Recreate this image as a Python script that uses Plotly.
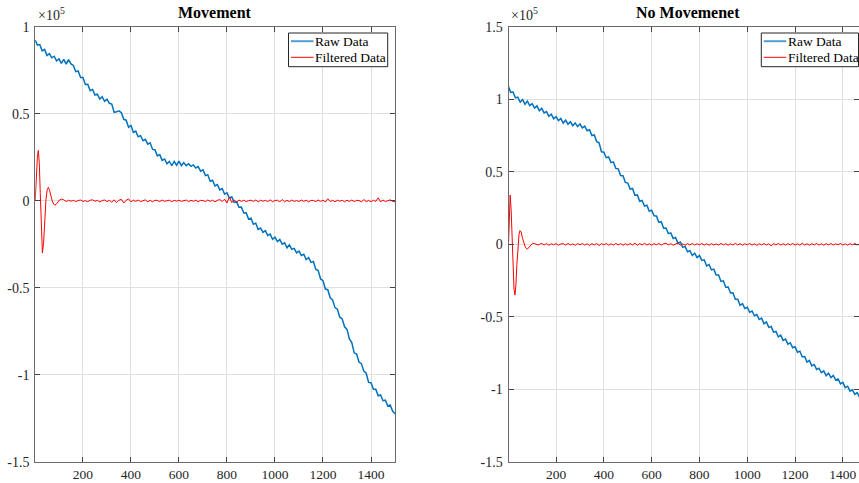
import plotly.graph_objects as go

# ---------------- data (values in units of 1e5) ----------------
sample_step = [1] + list(range(10, 1501, 10))

raw_movement = [
    0.925, 0.896, 0.899, 0.863, 0.871, 0.836, 0.847, 0.823, 0.832, 0.806,
    0.817, 0.791, 0.814, 0.787, 0.813, 0.788, 0.779, 0.743, 0.747, 0.709,
    0.709, 0.670, 0.671, 0.634, 0.641, 0.609, 0.614, 0.586, 0.599, 0.573,
    0.585, 0.561, 0.557, 0.509, 0.512, 0.518, 0.507, 0.469, 0.464, 0.423,
    0.434, 0.394, 0.401, 0.369, 0.375, 0.346, 0.354, 0.326, 0.334, 0.296,
    0.294, 0.259, 0.266, 0.233, 0.241, 0.213, 0.227, 0.202, 0.227, 0.205,
    0.229, 0.203, 0.220, 0.203, 0.214, 0.199, 0.207, 0.189, 0.197, 0.171,
    0.179, 0.146, 0.150, 0.113, 0.119, 0.086, 0.094, 0.063, 0.071, 0.039,
    0.047, 0.016, 0.023, -0.009, -0.006, -0.037, -0.036, -0.070, -0.069, -0.104,
    -0.099, -0.134, -0.128, -0.164, -0.156, -0.181, -0.171, -0.199, -0.191, -0.221,
    -0.209, -0.234, -0.222, -0.249, -0.241, -0.270, -0.253, -0.279, -0.273, -0.299,
    -0.289, -0.314, -0.307, -0.337, -0.326, -0.354, -0.349, -0.395, -0.401, -0.449,
    -0.459, -0.507, -0.511, -0.557, -0.569, -0.614, -0.623, -0.669, -0.679, -0.724,
    -0.739, -0.794, -0.815, -0.874, -0.881, -0.927, -0.936, -0.979, -0.991, -1.044,
    -1.046, -1.084, -1.084, -1.121, -1.116, -1.149, -1.146, -1.180, -1.174, -1.209,
    -1.225,
]

raw_no_movement = [
    1.090, 1.049, 1.051, 1.011, 1.016, 0.981, 0.999, 0.967, 0.989, 0.957,
    0.971, 0.941, 0.956, 0.922, 0.939, 0.907, 0.916, 0.884, 0.898, 0.867,
    0.881, 0.854, 0.869, 0.836, 0.857, 0.829, 0.846, 0.819, 0.838, 0.813,
    0.831, 0.804, 0.816, 0.784, 0.791, 0.751, 0.755, 0.709, 0.701, 0.639,
    0.636, 0.598, 0.603, 0.564, 0.569, 0.524, 0.521, 0.475, 0.473, 0.427,
    0.423, 0.381, 0.386, 0.339, 0.341, 0.297, 0.303, 0.264, 0.270, 0.229,
    0.236, 0.197, 0.196, 0.152, 0.156, 0.111, 0.113, 0.074, 0.079, 0.041,
    0.048, 0.007, 0.016, -0.021, -0.014, -0.051, -0.044, -0.077, -0.061, -0.091,
    -0.077, -0.111, -0.107, -0.149, -0.139, -0.176, -0.171, -0.211, -0.211, -0.256,
    -0.252, -0.296, -0.294, -0.336, -0.334, -0.379, -0.379, -0.421, -0.409, -0.443,
    -0.434, -0.469, -0.460, -0.493, -0.484, -0.519, -0.509, -0.548, -0.535, -0.573,
    -0.567, -0.606, -0.601, -0.639, -0.627, -0.663, -0.654, -0.689, -0.679, -0.714,
    -0.707, -0.744, -0.737, -0.776, -0.774, -0.813, -0.801, -0.839, -0.829, -0.863,
    -0.855, -0.886, -0.874, -0.906, -0.889, -0.919, -0.904, -0.936, -0.929, -0.963,
    -0.953, -0.989, -0.979, -1.013, -1.004, -1.036, -1.024, -1.056, -1.044, -1.073,
    -1.070,
]

filt_head_x_movement = [1, 5, 10, 14, 18, 22, 26, 31, 36, 41, 46, 51, 56, 61, 66,
                        72, 78, 83, 88, 95, 102, 110, 118, 126, 133]
filt_head_movement = [0.0, 0.12, 0.25, 0.29, 0.22, 0.05, -0.16, -0.30, -0.24, -0.10,
                      0.01, 0.065, 0.078, 0.06, 0.03, 0.0, -0.018, -0.025, -0.02,
                      -0.005, 0.005, 0.01, 0.008, 0.0, -0.003]

filt_head_x_no_movement = [1, 4, 8, 12, 16, 20, 24, 28, 32, 36, 40, 45, 49, 54, 60,
                           66, 72, 80, 86, 95, 102, 110, 118, 126, 133]
filt_head_no_movement = [0.0, 0.20, 0.34, 0.24, 0.05, -0.17, -0.31, -0.35, -0.28,
                         -0.14, -0.01, 0.07, 0.095, 0.085, 0.04, 0.0, -0.022, -0.033,
                         -0.02, 0.0, 0.008, 0.005, 0.0, -0.004, 0.002]

filt_tail_x = list(range(140, 1501, 10))
filt_tail_movement = [
    0.004, -0.002, 0.003, -0.004, 0.002, 0.005, -0.003, 0.001, -0.005, 0.004, 0.006, -0.002, 0.003, -0.006, 0.002, 0.005, -0.004,
    0.003, -0.008, 0.006, -0.010, 0.004, 0.009, -0.012, 0.003, 0.012, -0.006, 0.004, -0.003, 0.005, -0.004, 0.002, 0.006, -0.005, 0.003, -0.006, 0.004,
    0.002, -0.004, 0.005, -0.003, 0.001, 0.004, -0.005, 0.003, -0.002, 0.004, -0.003, 0.002, 0.005, -0.004, 0.003, -0.002, 0.004, -0.005, 0.003, 0.002,
    -0.004, 0.005, -0.003, 0.004, -0.006, 0.003, 0.008, -0.004, 0.010, -0.012, 0.022, -0.010, 0.006, -0.008, 0.005, -0.003, 0.004, -0.005, 0.002, 0.004,
    -0.003, 0.005, -0.006, 0.004, -0.002, 0.003, -0.004, 0.006, -0.005, 0.002, 0.004, -0.006, 0.008, -0.005, 0.003, -0.004, 0.005, -0.003, 0.002, -0.004,
    0.005, -0.003, 0.004, -0.006, 0.003, 0.002, -0.004, 0.005, -0.003, 0.004, -0.006, 0.012, -0.004, 0.003, -0.005, 0.004, -0.002, 0.003, -0.005, 0.004,
    -0.003, 0.005, -0.004, 0.003, 0.002, -0.006, 0.008, -0.004, 0.003, -0.005, 0.004, -0.003, 0.018, -0.006, 0.005, -0.004, 0.003, 0.006, -0.003, -0.005,
]
filt_tail_no_movement = [
    0.006, -0.004, 0.005, -0.006, 0.004, -0.003, 0.005, -0.006, 0.003, 0.004, -0.005, 0.006, -0.004, 0.003, -0.006, 0.005, -0.003,
    0.006, -0.005, 0.004, -0.007, 0.005, -0.004, 0.006, -0.008, 0.005, -0.004, 0.007, -0.006, 0.004, -0.005, 0.006, -0.004, 0.005, -0.006, 0.004, -0.005,
    0.006, -0.004, 0.008, -0.006, 0.005, -0.004, 0.007, -0.005, 0.004, -0.006, 0.005, -0.003, 0.006, -0.005, 0.004, 0.008, -0.004, 0.005, -0.006, 0.004,
    0.010, -0.005, 0.004, -0.006, 0.005, -0.004, 0.006, -0.005, 0.004, -0.003, 0.006, -0.005, 0.004, -0.006, 0.005, -0.004, 0.003, -0.005, 0.006, -0.004,
    0.005, -0.006, 0.004, -0.005, 0.007, -0.004, 0.005, -0.006, 0.004, -0.003, 0.006, -0.005, 0.004, -0.007, 0.005, -0.004, 0.006, -0.005, 0.004, -0.010,
    0.005, -0.004, 0.006, -0.005, 0.004, -0.006, 0.005, -0.004, 0.006, -0.005, 0.004, -0.006, 0.008, -0.005, 0.004, -0.006, 0.005, -0.004, 0.006, -0.005,
    0.004, -0.006, 0.005, -0.004, 0.006, -0.005, 0.004, -0.003, 0.006, -0.005, 0.004, -0.006, 0.005, -0.004, 0.006, -0.005, 0.004, -0.006, 0.005, -0.003,
]

x_tick_vals = [200, 400, 600, 800, 1000, 1200, 1400]
x_tick_text = ["200", "400", "600", "800", "1000", "1200", "1400"]
y_ticks_left = [-1.5, -1, -0.5, 0, 0.5, 1]
y_text_left = ["-1.5", "-1", "-0.5", "0", "0.5", "1"]
y_ticks_right = [-1.5, -1, -0.5, 0, 0.5, 1, 1.5]
y_text_right = ["-1.5", "-1", "-0.5", "0", "0.5", "1", "1.5"]
titles = ["Movement", "No Movemenet"]
series_names = ["Raw Data", "Filtered Data"]

# ---------------- figure ----------------
W, H = 859, 483
SERIF = "Liberation Serif"
BLUE = "#0072BD"
RED = "#FF0000"
TXT = "#262626"

fig = go.Figure()
fig.add_trace(go.Scatter(x=sample_step, y=raw_movement, mode="lines", name=series_names[0],
                         line=dict(color=BLUE, width=1.5), xaxis="x", yaxis="y"))
fig.add_trace(go.Scatter(x=filt_head_x_movement + filt_tail_x, y=filt_head_movement + filt_tail_movement,
                         mode="lines", name=series_names[1], line=dict(color=RED, width=1),
                         xaxis="x", yaxis="y"))
fig.add_trace(go.Scatter(x=sample_step, y=raw_no_movement, mode="lines", name=series_names[0],
                         line=dict(color=BLUE, width=1.5), xaxis="x2", yaxis="y2"))
fig.add_trace(go.Scatter(x=filt_head_x_no_movement + filt_tail_x, y=filt_head_no_movement + filt_tail_no_movement,
                         mode="lines", name=series_names[1], line=dict(color=RED, width=1),
                         xaxis="x2", yaxis="y2"))

ydom = [21.3 / H, (H - 27) / H]
left_dom = [35.2 / W, 395 / W]
right_dom = [508.5 / W, 1.0]

common_axis = dict(showline=True, mirror="ticks", linecolor="#6a6a6a", linewidth=1,
                   ticks="inside", ticklen=5, tickcolor="#444444", tickwidth=1,
                   showgrid=True, gridcolor="#dfdfdf", gridwidth=1, zeroline=False,
                   automargin=False)
xfont = dict(family=SERIF, size=13.5, color=TXT)
yfont = dict(family=SERIF, size=14, color=TXT)

fig.update_layout(
    width=W, height=H, autosize=False,
    margin=dict(l=0, r=0, t=0, b=0, pad=0),
    font=dict(family=SERIF, color=TXT),
    paper_bgcolor="white", plot_bgcolor="white",
    showlegend=False,
    xaxis=dict(domain=left_dom, range=[1, 1500], tickvals=x_tick_vals, ticktext=x_tick_text,
               anchor="y", ticklabelstandoff=0, tickfont=xfont, **common_axis),
    yaxis=dict(domain=ydom, range=[-1.5, 1], tickvals=y_ticks_left, ticktext=y_text_left,
               anchor="x", ticklabelstandoff=2, tickfont=yfont, **common_axis),
    xaxis2=dict(domain=right_dom, range=[1, 1467.5], tickvals=x_tick_vals, ticktext=x_tick_text,
                anchor="y2", ticklabelstandoff=0, tickfont=xfont, **common_axis),
    yaxis2=dict(domain=ydom, range=[-1.5, 1.5], tickvals=y_ticks_right, ticktext=y_text_right,
                anchor="x2", ticklabelstandoff=2, tickfont=yfont, **common_axis),
)


def px_x(v):
    return v / W


def px_y(v):
    return (H - v) / H


# titles
for t, cx in zip(titles, [215, 688]):
    fig.add_annotation(xref="paper", yref="paper", showarrow=False, text="<b>%s</b>" % t,
                       x=px_x(cx), y=px_y(23), xanchor="center", yanchor="bottom",
                       font=dict(family=SERIF, size=16, color="#000000"))
# exponent labels
for xa in [36, 509]:
    fig.add_annotation(xref="paper", yref="paper", showarrow=False, x=px_x(xa), y=px_y(25),
                       xanchor="left", yanchor="bottom", text="×10<sup>5</sup>",
                       font=dict(family=SERIF, size=14, color=TXT))

# legend boxes (drawn in paper space, one per panel)
legend_boxes = [(288.5, 387.7), (761.3, 858.5)]
for (bx0, bx1) in legend_boxes:
    fig.add_shape(type="rect", xref="paper", yref="paper",
                  x0=px_x(bx0), x1=px_x(bx1), y0=px_y(66.7), y1=px_y(33),
                  line=dict(color=TXT, width=1), fillcolor="white", layer="above")
    for name, col, wid, yy in [(series_names[0], "#4d9fd6", 2, 41.2),
                               (series_names[1], RED, 1, 57.3)]:
        fig.add_shape(type="line", xref="paper", yref="paper",
                      x0=px_x(bx0 + 2.5), x1=px_x(bx0 + 25), y0=px_y(yy), y1=px_y(yy),
                      line=dict(color=col, width=wid), layer="above")
        fig.add_annotation(xref="paper", yref="paper", showarrow=False, text=name,
                           x=px_x(bx0 + 25.5), y=px_y(yy), xanchor="left", yanchor="middle",
                           borderpad=0,
                           font=dict(family=SERIF, size=13.5, color="#000000"))

fig.write_html("out.html")
